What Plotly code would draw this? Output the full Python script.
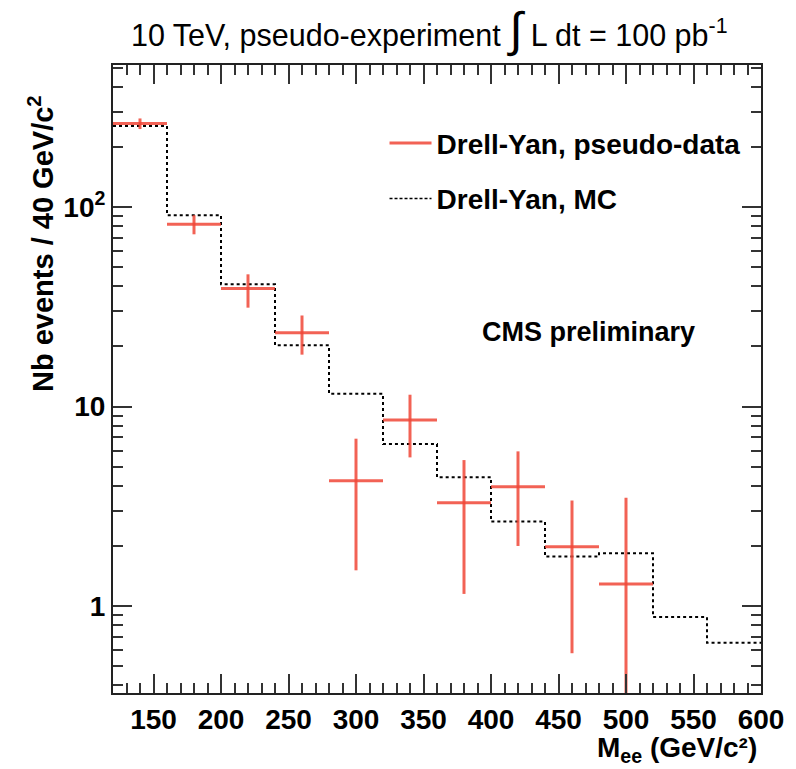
import plotly.graph_objects as go

# ---- data ----
bin_edges = [120, 160, 200, 240, 280, 320, 360, 400, 440, 480, 520, 560, 600]
mc_values = [255, 91, 41, 20.3, 11.6, 6.49, 4.42, 2.65, 1.77, 1.84, 0.88, 0.655]
data_x = [140, 180, 220, 260, 300, 340, 380, 420, 460, 500]
data_y = [262, 82, 39, 23.4, 4.25, 8.56, 3.29, 3.96, 1.98, 1.29]
data_err_hi = [16, 9, 7, 5.2, 2.65, 2.9, 2.1, 2.0, 1.4, 2.2]
data_err_lo = [16, 9, 7.7, 5.2, 2.74, 3.0, 2.14, 1.96, 1.4, 2.2]
bin_half_width = 20
x_tickvals = [150, 200, 250, 300, 350, 400, 450, 500, 550, 600]
y_tickvals = [1, 10, 100]
y_ticktext = ["1", "10", "10<sup>2</sup>"]

RED = "rgba(240,70,55,0.85)"
FONT = "Liberation Sans"

fig = go.Figure()

# MC step histogram
fig.add_trace(go.Scatter(
    x=bin_edges, y=mc_values + [mc_values[-1]],
    mode="lines", line=dict(shape="hv", color="black", width=2, dash="3px,3px"),
    name="Drell-Yan, MC", showlegend=False, cliponaxis=True,
))

# pseudo-data with error bars
fig.add_trace(go.Scatter(
    x=data_x, y=data_y, mode="markers",
    marker=dict(size=1, color="rgba(0,0,0,0)"),
    error_x=dict(type="constant", value=bin_half_width, width=0, thickness=3, color=RED),
    error_y=dict(type="data", array=data_err_hi, arrayminus=data_err_lo, width=0,
                 thickness=3, color=RED),
    showlegend=False,
))

# legend entries
fig.add_trace(go.Scatter(x=[None], y=[None], mode="lines",
                         line=dict(color=RED, width=3),
                         name="Drell-Yan, pseudo-data", legendgroup="a"))
fig.add_trace(go.Scatter(x=[None], y=[None], mode="lines",
                         line=dict(color="black", width=1.5, dash="3px,2px"),
                         name="Drell-Yan, MC", legendgroup="b"))

axis_common = dict(
    showline=True, linecolor="#222", linewidth=2, mirror="allticks",
    ticks="inside", tickcolor="#333", tickwidth=1.5, ticklen=19,
    showgrid=False, zeroline=False,
    tickfont=dict(family=FONT, size=28, color="black", weight="bold"),
)

fig.update_xaxes(
    range=[120, 600], tickvals=x_tickvals,
    minor=dict(ticks="inside", dtick=10, tick0=0, ticklen=10, tickcolor="#333",
               tickwidth=1.5, showgrid=False),
    **axis_common,
)
fig.update_yaxes(
    type="log", range=[-0.436, 2.712], tickvals=y_tickvals, ticktext=y_ticktext,
    minor=dict(ticks="inside", dtick="D1", ticklen=10, tickcolor="#333",
               tickwidth=1.5, showgrid=False),
    **axis_common,
)

fig.update_layout(
    width=796, height=769,
    margin=dict(l=113, r=33, t=65, b=76),
    plot_bgcolor="white", paper_bgcolor="white",
    showlegend=True,
    legend=dict(x=0.419, y=0.915, xanchor="left", yanchor="top",
                bgcolor="rgba(0,0,0,0)", itemwidth=42, tracegroupgap=16,
                font=dict(family=FONT, size=28, color="black", weight="bold")),
    font=dict(family=FONT),
)

# title
fig.add_annotation(
    xref="paper", yref="paper", x=0.488, y=1.0, yshift=6, xanchor="center", yanchor="bottom",
    showarrow=False,
    text=("10 TeV, pseudo-experiment <span style='font-size:48px'>∫</span> "
          "L dt = 100 pb<sup>-1</sup>"),
    font=dict(family=FONT, size=30.5, color="black"),
)
# axis titles
fig.add_annotation(
    xref="paper", yref="paper", x=1.0, xshift=-3, y=0, yshift=-38, xanchor="right", yanchor="top",
    showarrow=False, borderpad=0, text="M<sub>ee</sub> (GeV/c²)",
    font=dict(family=FONT, size=28, color="black", weight="bold"),
)
fig.add_annotation(
    xref="paper", yref="paper", x=0, xshift=-72, y=0.715, xanchor="center", yanchor="middle",
    textangle=-90, showarrow=False, text="Nb events / 40 GeV/c<sup>2</sup>",
    font=dict(family=FONT, size=29, color="black", weight="bold"),
)
# CMS preliminary
fig.add_annotation(
    xref="paper", yref="paper", x=(590 - 113) / 650, y=(693 - 332) / 628,
    xanchor="center", yanchor="middle", showarrow=False, text="CMS preliminary",
    font=dict(family=FONT, size=27, color="black", weight="bold"),
)

fig.write_html("out.html")
